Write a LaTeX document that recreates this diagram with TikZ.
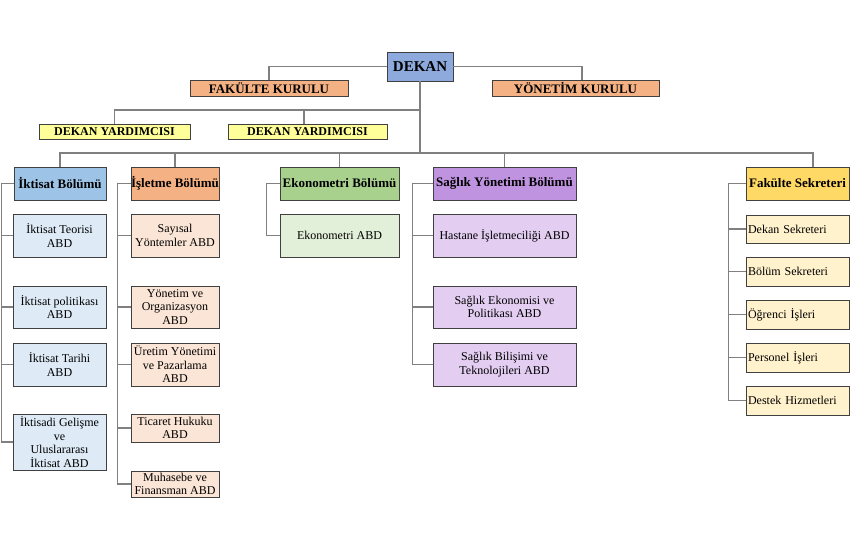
\documentclass[tikz,border=0pt]{standalone}
\usepackage{fontspec}
\setmainfont{Liberation Serif}
\definecolor{boxline}{HTML}{404040}
\definecolor{linkgray}{HTML}{808080}
\definecolor{cDekan}{HTML}{8EA9DB}
\definecolor{cKurul}{HTML}{F4B183}
\definecolor{cYard}{HTML}{FFFF99}
\definecolor{cIkt}{HTML}{9DC3E6}\definecolor{cIktL}{HTML}{DEEBF7}
\definecolor{cIsl}{HTML}{F4B183}\definecolor{cIslL}{HTML}{FBE5D6}
\definecolor{cEko}{HTML}{A9D18E}\definecolor{cEkoL}{HTML}{E2F0D9}
\definecolor{cSag}{HTML}{BF93E0}\definecolor{cSagL}{HTML}{E3CEF2}
\definecolor{cFs}{HTML}{FFD966}\definecolor{cFsL}{HTML}{FFF2CC}
\tikzset{
  box/.style={draw=boxline,line width=.8pt,inner sep=0pt,align=center,font=\fontsize{12}{13.5}\selectfont},
  head/.style={box,font=\bfseries\fontsize{13}{15}\selectfont},
  link/.style={draw=linkgray,line width=1.1pt},
}
\begin{document}
\begin{tikzpicture}[x=1pt,y=-1pt]
        \useasboundingbox (0,0) rectangle (850,550);
        % top
        \node[head,fill=cDekan,minimum width=66pt,minimum height=29pt,font=\bfseries\fontsize{15}{17}\selectfont] (dekan) at (420,66.5) {DEKAN};
        \node[head,fill=cKurul,minimum width=158pt,minimum height=16pt] (fk) at (269,88) {FAK\"ULTE KURULU};
        \node[head,fill=cKurul,minimum width=167pt,minimum height=16pt] (yk) at (575.5,88) {Y\"ONET\.IM KURULU};
        \node[head,fill=cYard,minimum width=151pt,minimum height=15pt,font=\bfseries\fontsize{12}{14}\selectfont] (dy1) at (114.5,131.5) {DEKAN YARDIMCISI};
        \node[head,fill=cYard,minimum width=159pt,minimum height=15pt,font=\bfseries\fontsize{12}{14}\selectfont] (dy2) at (307.5,131.5) {DEKAN YARDIMCISI};
        % departments
        \node[head,fill=cIkt,minimum width=92pt,minimum height=33pt] (ikt) at (60,183.5) {İktisat Bölümü};
        \node[head,fill=cIsl,minimum width=88pt,minimum height=33pt] (isl) at (175,183.5) {İşletme Bölümü};
        \node[head,fill=cEko,minimum width=119pt,minimum height=33pt] (eko) at (339.5,183.5) {Ekonometri Bölümü};
        \node[head,fill=cSag,minimum width=143pt,minimum height=33pt] (sag) at (504.5,183.5) {Sağlık Yönetimi Bölümü};
        \node[head,fill=cFs,minimum width=103pt,minimum height=33pt] (fs) at (797.5,183.5) {Fakülte Sekreteri};
        % iktisat
        \node[box,fill=cIktL,minimum width=93pt,minimum height=43pt] (ikt1) at (59.5,235.5) {İktisat Teorisi\\ABD};
        \node[box,fill=cIktL,minimum width=93pt,minimum height=42pt] (ikt2) at (59.5,307) {İktisat politikası\\ABD};
        \node[box,fill=cIktL,minimum width=93pt,minimum height=43pt] (ikt3) at (59.5,364.5) {İktisat Tarihi\\ABD};
        \node[box,fill=cIktL,minimum width=93pt,minimum height=56pt] (ikt4) at (59.5,442) {İktisadi Gelişme\\ve\\Uluslararası\\İktisat ABD};
        % isletme
        \node[box,fill=cIslL,minimum width=88pt,minimum height=43pt] (isl1) at (175,235.5) {Sayısal\\Yöntemler ABD};
        \node[box,fill=cIslL,minimum width=88pt,minimum height=42pt] (isl2) at (175,307) {Yönetim ve\\Organizasyon\\ABD};
        \node[box,fill=cIslL,minimum width=88pt,minimum height=43pt] (isl3) at (175,364.5) {Üretim Yönetimi\\ve Pazarlama\\ABD};
        \node[box,fill=cIslL,minimum width=88pt,minimum height=28pt] (isl4) at (175,428) {Ticaret Hukuku\\ABD};
        \node[box,fill=cIslL,minimum width=88pt,minimum height=26pt] (isl5) at (175,484) {Muhasebe ve\\Finansman ABD};
        % ekonometri, saglik
        \node[box,fill=cEkoL,minimum width=119pt,minimum height=43pt] (eko1) at (339.5,235.5) {Ekonometri ABD};
        \node[box,fill=cSagL,minimum width=143pt,minimum height=43pt] (sag1) at (504.5,235.5) {Hastane İşletmeciliği ABD};
        \node[box,fill=cSagL,minimum width=143pt,minimum height=42pt] (sag2) at (504.5,307) {Sağlık Ekonomisi ve\\Politikası ABD};
        \node[box,fill=cSagL,minimum width=143pt,minimum height=43pt] (sag3) at (504.5,364.5) {Sağlık Bilişimi ve\\Teknolojileri ABD};
        % fakulte sekreteri
        \node[box,fill=cFsL,text width=99pt,inner xsep=2pt,align=left,minimum height=28pt] (fs1) at (797.5,229) {Dekan Sekreteri};
        \node[box,fill=cFsL,text width=99pt,inner xsep=2pt,align=left,minimum height=29pt] (fs2) at (797.5,271.5) {Bölüm Sekreteri};
        \node[box,fill=cFsL,text width=99pt,inner xsep=2pt,align=left,minimum height=29pt] (fs3) at (797.5,314.5) {Öğrenci İşleri};
        \node[box,fill=cFsL,text width=99pt,inner xsep=2pt,align=left,minimum height=29pt] (fs4) at (797.5,357.5) {Personel İşleri};
        \node[box,fill=cFsL,text width=99pt,inner xsep=2pt,align=left,minimum height=29pt] (fs5) at (797.5,400.5) {Destek Hizmetleri};
        % links
        \coordinate (yb) at (420,110);
        \coordinate (bus) at (420,153);
        \draw[link] (dekan.west) -| (fk.north);
        \draw[link] (dekan.east) -| ([xshift=6.5pt]yk.north);
        \draw[link] (dekan.south) -- (bus);
        \draw[link] (yb) -| (dy1.north) (yb) -| ([xshift=-3.5pt]dy2.north);
        \foreach \n in {ikt,isl,eko,sag} \draw[link] (bus) -| (\n.north);
        \draw[link] (bus) -| ([xshift=15.5pt]fs.north);
        \foreach \c in {ikt1,ikt2,ikt3,ikt4} \draw[link] (ikt.west) -- ++(-12,0) |- (\c.west);
        \foreach \c in {isl1,isl2,isl3,isl4,isl5} \draw[link] (isl.west) -- ++(-13,0) |- (\c.west);
        \draw[link] (eko.west) -- ++(-13,0) |- (eko1.west);
        \foreach \c in {sag1,sag2,sag3} \draw[link] (sag.west) -- ++(-20,0) |- (\c.west);
        \foreach \c in {fs1,fs2,fs3,fs4,fs5} \draw[link] (fs.west) -- ++(-17,0) |- (\c.west);
    \end{tikzpicture}
\end{document}
